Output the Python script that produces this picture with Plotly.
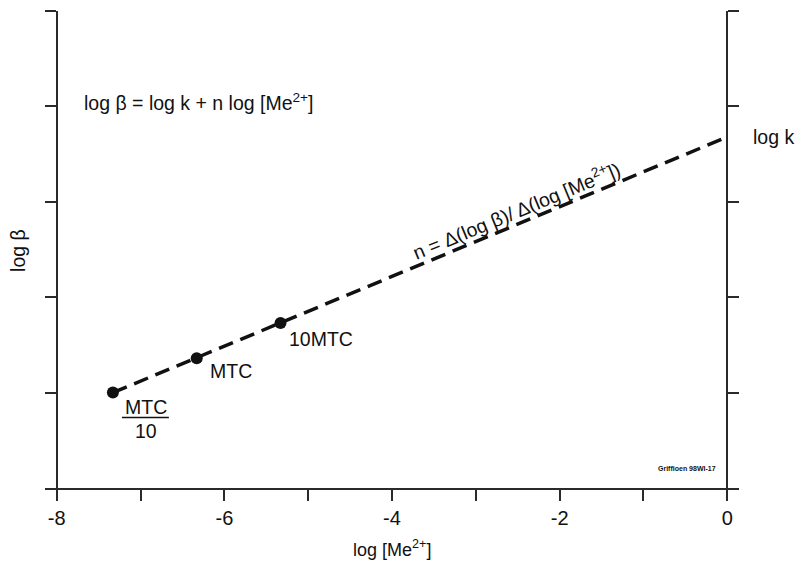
import plotly.graph_objects as go

# Measured complexation constants at three ligand levels
point_labels = ["MTC/10", "MTC", "10MTC"]
log_me = [-7.33, -6.33, -5.33]
log_beta = [1.0, 1.36, 1.73]

# Regression line extended to log [Me2+] = 0, where it meets log k
fit_x = [-7.33, 0.0]
fit_y = [1.0, 3.68]

x_ticks = [-8, -6, -4, -2, 0]
x_tick_text = ["-8", "-6", "-4", "-2", "0"]
x_minor_ticks = [-7, -5, -3, -1]
y_ticks = [1, 2, 3, 4, 5]

FONT = "Liberation Sans, Arial, sans-serif"
INK = "#111111"
AX = "#2a2a2a"
FS = 19.5

X_RANGE = [-8.14, 0.14]
Y_RANGE = [0, 5]
left_pos = (-8 - X_RANGE[0]) / (X_RANGE[1] - X_RANGE[0])
right_pos = (0 - X_RANGE[0]) / (X_RANGE[1] - X_RANGE[0])

fig = go.Figure()

fig.add_trace(go.Scatter(
    x=fit_x, y=fit_y, mode="lines",
    line=dict(color=INK, width=3.5, dash="15px,8px"),
    hoverinfo="skip", showlegend=False,
))
fig.add_trace(go.Scatter(
    x=log_me, y=log_beta, mode="markers",
    marker=dict(color=INK, size=12),
    showlegend=False,
))
# empty trace so the right-hand axis is drawn
fig.add_trace(go.Scatter(x=[None], y=[None], yaxis="y2", showlegend=False, hoverinfo="skip"))

axis_style = dict(
    showgrid=False, zeroline=False,
    showline=True, linecolor=AX, linewidth=1.5,
    ticks="outside", ticklen=11, tickwidth=1.5, tickcolor=AX,
)

fig.update_layout(
    width=803, height=561,
    margin=dict(l=45, r=64, t=11, b=73),
    paper_bgcolor="white", plot_bgcolor="white",
    font=dict(family=FONT, color=INK, size=FS),
    xaxis=dict(
        range=X_RANGE, **axis_style,
        tickvals=x_ticks, ticktext=x_tick_text,
        tickfont=dict(size=20, family=FONT, color=INK),
        minor=dict(tickvals=x_minor_ticks, ticks="outside", ticklen=11,
                   tickwidth=1.5, tickcolor=AX, showgrid=False),
    ),
    yaxis=dict(
        range=Y_RANGE, anchor="free", position=left_pos, **axis_style,
        tickvals=y_ticks, showticklabels=False,
    ),
    yaxis2=dict(
        range=Y_RANGE, anchor="free", position=right_pos, overlaying="y", side="right",
        **axis_style, tickvals=y_ticks, showticklabels=False,
    ),
)

ann = []
# point labels
ann.append(dict(x=log_me[1], y=log_beta[1], text=point_labels[1], xanchor="left", yanchor="middle",
                xshift=11, yshift=-13, showarrow=False, font=dict(size=FS)))
ann.append(dict(x=log_me[2], y=log_beta[2], text=point_labels[2], xanchor="left", yanchor="middle",
                xshift=6, yshift=-16, showarrow=False, font=dict(size=FS)))
num, den = point_labels[0].split("/")
ann.append(dict(x=log_me[0], y=log_beta[0], text=num, xanchor="center", yanchor="middle",
                xshift=33, yshift=-14, showarrow=False, font=dict(size=FS)))
ann.append(dict(x=log_me[0], y=log_beta[0], text=den, xanchor="center", yanchor="middle",
                xshift=33, yshift=-38, showarrow=False, font=dict(size=FS)))
fig.add_shape(type="line", xref="x", yref="y", xsizemode="pixel", ysizemode="pixel",
              xanchor=log_me[0], yanchor=log_beta[0], x0=9, x1=56, y0=-25, y1=-25,
              line=dict(color=INK, width=1.5))

# equation and slope definition
ann.append(dict(x=-7.70, y=4.05, text="log β = log k + n log [Me<sup>2+</sup>]",
                xanchor="left", yanchor="middle", showarrow=False, font=dict(size=FS)))
ann.append(dict(x=-2.52, y=2.91, text="n = Δ(log β)/ Δ(log [Me<sup>2+</sup>])",
                xanchor="center", yanchor="middle", textangle=-22.5, showarrow=False,
                font=dict(size=FS)))
ann.append(dict(x=0, y=fit_y[1], text="log k", xanchor="left", yanchor="middle",
                xshift=24, showarrow=False, font=dict(size=FS)))
ann.append(dict(x=-0.11, y=0.2, text="<b>Griffioen 98WI-17</b>", xanchor="right", yanchor="middle",
                showarrow=False, font=dict(size=7)))

# axis titles
ann.append(dict(x=-4.0, y=-0.126, xref="x", yref="paper", text="log [Me<sup>2+</sup>]",
                xanchor="center", yanchor="middle", showarrow=False, font=dict(size=18)))
ann.append(dict(x=-0.039, y=0.499, xref="paper", yref="paper", text="log β", textangle=-90,
                xanchor="center", yanchor="middle", showarrow=False, font=dict(size=FS)))

fig.update_layout(annotations=ann)
fig.write_html("out.html")
